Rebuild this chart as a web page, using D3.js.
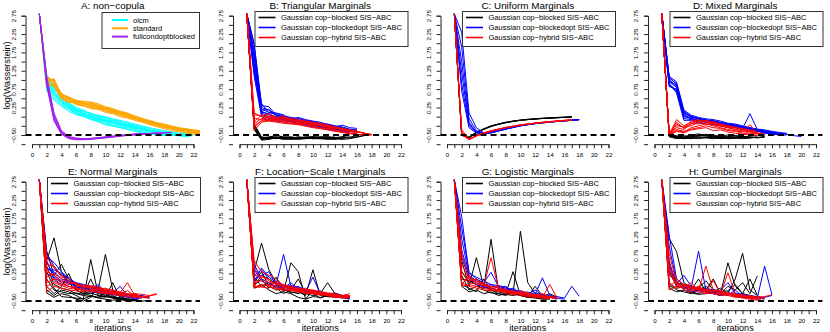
<!DOCTYPE html>
<html>
<head>
<meta charset="utf-8">
<script src="https://cdn.jsdelivr.net/npm/d3@7"></script>
<style>
  body { margin: 0; background: #fff; }
  svg { display: block; font-family: "Liberation Sans", Arial, sans-serif; }
</style>
</head>
<body>
<div id="chart"></div>
<script>
// figure size
let svgWidth = 830,
    svgHeight = 332;

// panel grid (4 x 2)
let panelW = 207.5,
    panelH = 166;

// axis ticks and labels
const xTicks = d3.range(0, 23, 1);
const xLabels = [0, 2, 4, 6, 8, 10, 12, 14, 16, 18, 20, 22];
const yTicks = d3.range(-0.75, 2.76, 0.25);
const yLabels = [2.75, 2.25, 1.75, 1.25, 0.75, 0.25, -0.5];
const refLevel = -0.5;

const panelTitles = ['A: non\u2212copula', 'B: Triangular Marginals', 'C: Uniform Marginals', 'D: Mixed Marginals',
    'E: Normal Marginals', 'F: Location\u2212Scale t Marginals', 'G: Logistic Marginals', 'H: Gumbel Marginals'];

const baseMethods = ['olcm', 'standard', 'fullcondoptblocked'];
const baseColours = ['#00ffff', '#ffa500', '#a020f0'];
const copulaMethods = ['Gaussian cop\u2212blocked SIS\u2212ABC', 'Gaussian cop\u2212blockedopt SIS\u2212ABC', 'Gaussian cop\u2212hybrid SIS\u2212ABC'];
const copulaColours = ['#000000', '#0000ff', '#ff0000'];

// each run is log(Wasserstein) at iterations 1, 2, 3, ...
// A: non-copula
const A_olcm = [
    [2.8,1.05,0.72,0.45,0.32,0.18,0.1,0.02,-0.05,-0.1,-0.15,-0.2,-0.24,-0.28,-0.33,-0.38,-0.42,-0.45,-0.48,-0.5],
    [2.8,0.9,0.6,0.38,0.25,0.12,0.05,-0.02,-0.08,-0.14,-0.18,-0.22,-0.27,-0.3,-0.35,-0.4,-0.43,-0.46,-0.47,-0.5,-0.52],
    [2.8,1.1,0.8,0.52,0.36,0.22,0.15,0.08,0.0,-0.05,-0.1,-0.16,-0.2,-0.25,-0.3,-0.35,-0.4,-0.44,-0.46],
    [2.8,0.78,0.5,0.3,0.2,0.08,0.02,-0.06,-0.12,-0.2,-0.24,-0.3,-0.33,-0.38,-0.42,-0.45,-0.48,-0.5],
    [2.8,0.95,0.7,0.46,0.28,0.15,0.12,0.0,-0.04,-0.1,-0.12,-0.18,-0.22,-0.26,-0.32,-0.36,-0.4,-0.45,-0.48,-0.52,-0.55,-0.5],
    [2.8,1.0,0.66,0.42,0.3,0.2,0.06,0.03,-0.02,-0.08,-0.13,-0.2,-0.25,-0.3,-0.34,-0.38,-0.42,-0.44,-0.47,-0.49],
    [2.8,0.85,0.55,0.35,0.22,0.1,0.04,-0.04,-0.1,-0.16,-0.22,-0.27,-0.3,-0.35,-0.38,-0.42,-0.46,-0.5,-0.52,-0.5,-0.48],
    [2.8,1.15,0.85,0.5,0.34,0.2,0.14,0.1,0.02,-0.03,-0.08,-0.13,-0.18,-0.22,-0.27,-0.32,-0.37,-0.4,-0.43,-0.46,-0.47,-0.45],
    [2.8,0.7,0.45,0.28,0.15,0.05,0.0,-0.08,-0.14,-0.22,-0.26,-0.3,-0.35,-0.4,-0.44,-0.47,-0.5,-0.52,-0.5],
    [2.8,1.08,0.76,0.55,0.38,0.26,0.18,0.06,0.04,0.0,-0.06,-0.1,-0.15,-0.2,-0.25,-0.3,-0.34,-0.38,-0.42,-0.45,-0.48],
    [2.8,0.92,0.62,0.4,0.26,0.16,0.08,0.05,-0.06,-0.12,-0.16,-0.24,-0.28,-0.32,-0.36,-0.4,-0.44,-0.47,-0.49,-0.52]
];
const A_standard = [
    [2.8,1.05,1.0,0.6,0.5,0.42,0.38,0.36,0.3,0.25,0.2,0.12,0.06,-0.02,-0.08,-0.15,-0.2,-0.25,-0.3,-0.34,-0.37,-0.4,-0.42],
    [2.8,0.9,0.85,0.5,0.42,0.35,0.3,0.25,0.2,0.15,0.1,0.04,-0.02,-0.08,-0.14,-0.2,-0.26,-0.3,-0.34,-0.38,-0.42,-0.45,-0.47],
    [2.8,1.1,0.95,0.62,0.52,0.45,0.4,0.4,0.35,0.27,0.22,0.15,0.1,0.02,-0.04,-0.14,-0.18,-0.23,-0.28,-0.32,-0.35,-0.38,-0.4],
    [2.8,0.8,0.9,0.55,0.45,0.38,0.33,0.3,0.24,0.2,0.14,0.08,0.02,-0.05,-0.1,-0.18,-0.22,-0.28,-0.33,-0.38,-0.4,-0.44,-0.46],
    [2.8,0.95,1.04,0.58,0.48,0.32,0.3,0.22,0.2,0.12,0.08,0.0,-0.04,-0.1,-0.15,-0.22,-0.27,-0.33,-0.38,-0.41,-0.45,-0.48,-0.5],
    [2.8,1.0,0.82,0.48,0.38,0.4,0.35,0.34,0.28,0.22,0.16,0.1,0.05,0.0,-0.06,-0.12,-0.18,-0.24,-0.28,-0.32,-0.36,-0.38,-0.4],
    [2.8,0.85,0.88,0.52,0.4,0.36,0.28,0.26,0.22,0.18,0.12,0.06,0.0,-0.06,-0.12,-0.16,-0.22,-0.27,-0.32,-0.36,-0.38,-0.42,-0.44],
    [2.8,1.08,0.98,0.6,0.54,0.44,0.42,0.38,0.32,0.26,0.18,0.13,0.08,0.0,-0.06,-0.1,-0.16,-0.2,-0.25,-0.3,-0.33,-0.36,-0.38],
    [2.8,0.98,0.92,0.56,0.46,0.41,0.36,0.32,0.26,0.2,0.15,0.1,0.03,-0.04,-0.1,-0.16,-0.21,-0.26,-0.31,-0.35,-0.39,-0.42,-0.45],
    [2.8,1.02,0.96,0.64,0.5,0.39,0.37,0.28,0.25,0.23,0.17,0.09,0.04,-0.03,-0.09,-0.13,-0.19,-0.22,-0.27,-0.31,-0.34,-0.37,-0.41]
];
const A_fullcond = [
    [2.8,0.95,-0.05,-0.45,-0.58,-0.62,-0.62,-0.6,-0.58,-0.56,-0.54,-0.52,-0.5,-0.48,-0.47,-0.46,-0.45,-0.44],
    [2.8,1.05,0.05,-0.4,-0.55,-0.6,-0.61,-0.6,-0.59,-0.57,-0.55,-0.53,-0.51,-0.49,-0.48,-0.47],
    [2.8,0.85,-0.12,-0.48,-0.6,-0.63,-0.63,-0.62,-0.6,-0.58,-0.56,-0.53,-0.51,-0.5,-0.48,-0.46,-0.45,-0.44,-0.43],
    [2.8,1.0,0.0,-0.42,-0.56,-0.6,-0.6,-0.59,-0.57,-0.55,-0.53,-0.51,-0.49,-0.47,-0.46],
    [2.8,0.9,-0.08,-0.46,-0.59,-0.61,-0.62,-0.61,-0.59,-0.57,-0.54,-0.52,-0.5,-0.49,-0.47,-0.46,-0.45],
    [2.8,1.1,0.1,-0.38,-0.54,-0.58,-0.6,-0.6,-0.58,-0.56,-0.54,-0.52,-0.5,-0.48,-0.47,-0.46,-0.45,-0.44,-0.43]
];

// B: Triangular
const B_blocked = [
    [2.8,-0.25,-0.6,-0.58,-0.55,-0.6,-0.58,-0.56,-0.57,-0.55,-0.56,-0.58,-0.6,-0.55,-0.5],
    [2.8,-0.3,-0.62,-0.6,-0.48,-0.58,-0.6,-0.55,-0.58,-0.6,-0.57,-0.55,-0.58],
    [2.8,-0.2,-0.55,-0.58,-0.6,-0.56,-0.55,-0.6,-0.56,-0.55,-0.58,-0.6,-0.57,-0.55,-0.58,-0.55,-0.5],
    [2.8,-0.35,-0.64,-0.62,-0.58,-0.62,-0.6,-0.58,-0.55,-0.58,-0.6,-0.62,-0.6,-0.58],
    [2.8,-0.28,-0.58,-0.55,-0.52,-0.55,-0.57,-0.58,-0.6,-0.57,-0.56,-0.55,-0.58,-0.6,-0.56,-0.52],
    [2.8,-0.22,-0.6,-0.6,-0.56,-0.6,-0.62,-0.6,-0.57,-0.55,-0.58,-0.6,-0.62,-0.58,-0.55],
    [2.8,-0.32,-0.62,-0.57,-0.6,-0.58,-0.56,-0.57,-0.58,-0.6,-0.6,-0.57,-0.55],
    [2.8,-0.26,-0.57,-0.6,-0.58,-0.57,-0.6,-0.62,-0.6,-0.58,-0.55,-0.56,-0.6,-0.62,-0.6,-0.56,-0.52]
];
const B_blockedopt = [
    [2.8,2.0,0.3,0.27,0.05,0.0,-0.05,-0.08,-0.12,-0.16,-0.2,-0.22,-0.28,-0.23,-0.3,-0.32],
    [2.8,1.6,0.15,0.05,0.0,-0.05,-0.1,-0.12,-0.15,-0.2,-0.25,-0.28,-0.32,-0.38,-0.42],
    [2.8,1.3,0.05,-0.05,-0.08,-0.1,-0.12,-0.18,-0.2,-0.25,-0.28,-0.32,-0.35,-0.4,-0.45],
    [2.8,1.8,0.36,0.1,0.08,0.02,-0.02,-0.05,-0.1,-0.14,-0.18,-0.2,-0.25,-0.28,-0.34,-0.36],
    [2.8,1.1,0.0,-0.1,-0.12,-0.15,-0.14,-0.2,-0.24,-0.28,-0.3,-0.35,-0.38,-0.42],
    [2.8,1.45,0.2,0.12,0.1,0.05,-0.08,-0.02,-0.08,-0.12,-0.15,-0.22,-0.26,-0.3,-0.35,-0.38],
    [2.8,1.95,0.25,0.18,0.02,-0.02,-0.04,-0.1,-0.14,-0.18,-0.22,-0.26,-0.3,-0.32,-0.37],
    [2.8,1.2,0.1,0.0,-0.05,-0.08,-0.1,-0.14,-0.18,-0.22,-0.26,-0.3,-0.32,-0.38,-0.4,-0.43],
    [2.8,1.7,0.18,0.2,0.04,-0.03,-0.06,-0.1,-0.13,-0.17,-0.21,-0.27,-0.3,-0.35,-0.39,-0.41],
    [2.8,1.35,0.12,0.08,-0.02,-0.06,-0.1,-0.13,-0.16,-0.24,-0.26,-0.29,-0.34,-0.36,-0.38]
];
const B_hybrid = [
    [2.8,-0.15,0.05,0.0,-0.05,-0.02,-0.08,-0.1,-0.15,-0.18,-0.22,-0.26,-0.3,-0.35,-0.38,-0.42,-0.45,-0.5],
    [2.8,-0.3,-0.1,-0.05,-0.1,-0.12,-0.15,-0.18,-0.2,-0.25,-0.3,-0.32,-0.35,-0.4,-0.44,-0.47],
    [2.8,0.05,0.02,0.08,-0.02,0.0,-0.05,-0.08,-0.12,-0.15,-0.18,-0.22,-0.28,-0.32,-0.36,-0.4,-0.46],
    [2.8,-0.38,-0.15,-0.12,-0.15,-0.18,-0.2,-0.22,-0.26,-0.3,-0.33,-0.36,-0.4,-0.43,-0.46,-0.48,-0.5,-0.5],
    [2.8,-0.2,-0.05,-0.08,-0.05,-0.1,-0.12,-0.14,-0.18,-0.22,-0.25,-0.28,-0.32,-0.36,-0.4,-0.44],
    [2.8,0.1,0.0,-0.02,-0.08,-0.05,-0.1,-0.12,-0.16,-0.2,-0.24,-0.3,-0.28,-0.34,-0.38,-0.42,-0.45],
    [2.8,-0.25,-0.12,-0.1,-0.12,-0.15,-0.18,-0.2,-0.22,-0.27,-0.3,-0.34,-0.38,-0.42,-0.46,-0.48,-0.5],
    [2.8,-0.05,-0.08,0.02,-0.02,-0.06,-0.08,-0.16,-0.14,-0.18,-0.22,-0.25,-0.3,-0.33,-0.37,-0.4,-0.45,-0.48]
];

// C: Uniform
const C_blocked = [
    [2.8,-0.5,-0.57,-0.43,-0.34,-0.26,-0.2,-0.16,-0.12,-0.1,-0.08,-0.06,-0.05,-0.04,-0.03,-0.02,-0.01],
    [2.8,-0.49,-0.56,-0.42,-0.33,-0.25,-0.2,-0.15,-0.12,-0.09,-0.07,-0.06,-0.04,-0.03,-0.02,-0.01,0.0],
    [2.8,-0.51,-0.58,-0.44,-0.35,-0.27,-0.21,-0.17,-0.13,-0.1,-0.08,-0.07,-0.05,-0.04,-0.03,-0.02,-0.01],
    [2.8,-0.5,-0.57,-0.43,-0.34,-0.26,-0.21,-0.16,-0.13,-0.1,-0.08,-0.06,-0.05,-0.04,-0.03,-0.02,-0.01]
];
const C_blockedopt = [
    [2.8,2.3,0.1,-0.3,-0.44,-0.43,-0.38,-0.33,-0.28,-0.24,-0.21,-0.18,-0.16,-0.14,-0.13,-0.11,-0.09,-0.08],
    [2.8,1.9,-0.05,-0.38,-0.45,-0.44,-0.39,-0.34,-0.29,-0.25,-0.22,-0.19,-0.17,-0.15,-0.13,-0.11,-0.1,-0.08],
    [2.8,1.5,-0.15,-0.42,-0.46,-0.44,-0.39,-0.34,-0.3,-0.25,-0.22,-0.19,-0.17,-0.15,-0.13,-0.12,-0.1,-0.09],
    [2.8,1.2,-0.2,-0.44,-0.46,-0.43,-0.38,-0.33,-0.29,-0.25,-0.21,-0.19,-0.16,-0.14,-0.13,-0.11,-0.1,-0.08],
    [2.8,0.9,-0.25,-0.43,-0.45,-0.43,-0.38,-0.33,-0.28,-0.24,-0.21,-0.18,-0.16,-0.14,-0.12,-0.11,-0.09,-0.08],
    [2.8,0.7,-0.3,-0.45,-0.46,-0.44,-0.39,-0.34,-0.29,-0.25,-0.22,-0.19,-0.17,-0.15,-0.13,-0.12,-0.1]
];
const C_hybrid = [
    [2.8,-0.4,-0.62,-0.52,-0.45,-0.39,-0.34,-0.3,-0.26,-0.23,-0.2,-0.18,-0.16,-0.14,-0.12,-0.1,-0.09],
    [2.8,-0.35,-0.61,-0.51,-0.44,-0.38,-0.34,-0.29,-0.26,-0.22,-0.2,-0.17,-0.15,-0.13,-0.12,-0.1,-0.08],
    [2.8,-0.48,-0.63,-0.53,-0.46,-0.4,-0.35,-0.3,-0.27,-0.23,-0.21,-0.18,-0.16,-0.14,-0.12,-0.11,-0.09],
    [2.8,-0.45,-0.62,-0.52,-0.45,-0.39,-0.35,-0.3,-0.26,-0.23,-0.2,-0.18,-0.16,-0.14,-0.13,-0.11,-0.1]
];

// D: Mixed
const D_blocked = [
    [2.8,-0.5,-0.55,-0.58,-0.55,-0.52,-0.5,-0.55,-0.58,-0.56,-0.55,-0.57,-0.58,-0.56],
    [2.8,-0.52,-0.58,-0.6,-0.57,-0.55,-0.56,-0.58,-0.6,-0.58,-0.57,-0.55,-0.56,-0.58,-0.55],
    [2.8,-0.48,-0.52,-0.55,-0.5,-0.47,-0.52,-0.5,-0.54,-0.55,-0.52,-0.55,-0.57],
    [2.8,-0.55,-0.6,-0.58,-0.6,-0.57,-0.58,-0.6,-0.57,-0.55,-0.58,-0.6,-0.58,-0.55],
    [2.8,-0.5,-0.56,-0.52,-0.55,-0.53,-0.48,-0.53,-0.56,-0.58,-0.56,-0.54,-0.56,-0.57,-0.54],
    [2.8,-0.53,-0.57,-0.6,-0.58,-0.6,-0.57,-0.56,-0.58,-0.6,-0.59,-0.57,-0.58],
    [2.8,-0.5,-0.54,-0.56,-0.52,-0.5,-0.53,-0.55,-0.53,-0.5,-0.52,-0.54,-0.55,-0.57,-0.56]
];
const D_blockedopt = [
    [2.8,1.05,0.9,0.15,0.0,-0.05,-0.1,-0.12,-0.15,-0.2,-0.22,-0.28,-0.32,-0.35,-0.4,-0.45],
    [2.8,0.95,0.8,0.05,-0.05,-0.1,-0.12,-0.1,-0.18,-0.22,-0.26,-0.3,-0.35,-0.38,-0.42,-0.45,-0.47],
    [2.8,0.85,0.7,-0.05,-0.08,-0.15,-0.15,-0.2,-0.22,-0.25,-0.28,-0.32,0.08,-0.35,-0.4,-0.45,-0.48],
    [2.8,1.1,0.95,0.18,0.04,-0.02,-0.06,-0.08,-0.12,-0.18,-0.2,-0.25,-0.3,-0.35,-0.38,-0.42,-0.45,-0.48,-0.52,-0.54],
    [2.8,0.9,0.65,-0.1,-0.1,-0.18,-0.2,-0.22,-0.25,-0.28,-0.3,-0.35,-0.38,-0.4,-0.45,-0.48,-0.5,-0.5],
    [2.8,1.0,0.85,0.1,-0.02,-0.06,-0.12,-0.16,-0.2,-0.24,-0.26,-0.3,-0.33,-0.36,-0.42,-0.44,-0.46,-0.45],
    [2.8,0.82,0.75,0.0,-0.04,-0.12,-0.08,-0.14,-0.16,-0.2,-0.25,-0.3,-0.34,-0.38,-0.43,-0.47],
    [2.8,1.08,0.88,0.08,0.02,-0.08,-0.1,-0.14,-0.18,-0.22,-0.24,-0.28,-0.3,-0.34,-0.36,-0.4,-0.43,-0.46],
    [2.8,0.98,0.82,0.12,0.0,-0.04,-0.09,-0.12,-0.17,-0.21,-0.25,-0.27,-0.31,-0.37,-0.4,-0.44],
    [2.8,0.88,0.72,0.02,-0.06,-0.1,-0.14,-0.18,-0.2,-0.23,-0.27,-0.33,-0.36,-0.39,-0.44,-0.46,-0.48]
];
const D_hybrid = [
    [2.8,-0.5,-0.08,-0.25,-0.15,-0.12,-0.15,-0.2,-0.22,-0.28,-0.3,-0.35,-0.38,-0.45,-0.5],
    [2.8,-0.48,-0.3,-0.35,-0.2,-0.1,-0.12,-0.18,-0.25,-0.3,-0.34,-0.4,-0.45,-0.48],
    [2.8,-0.52,-0.38,-0.42,-0.3,-0.25,-0.2,-0.25,-0.3,-0.35,-0.38,-0.42,-0.22,-0.45,-0.5],
    [2.8,-0.46,-0.2,-0.3,-0.12,-0.08,-0.16,-0.14,-0.2,-0.24,-0.3,-0.33,-0.36,-0.42],
    [2.8,-0.5,-0.35,-0.4,-0.34,-0.3,-0.25,-0.3,-0.32,-0.38,-0.4,-0.45,-0.48,-0.52,-0.5],
    [2.8,-0.49,-0.25,-0.28,-0.25,-0.15,-0.2,-0.22,-0.26,-0.3,-0.35,-0.38,-0.42,-0.46],
    [2.8,-0.47,-0.15,-0.32,-0.18,-0.2,-0.1,-0.15,-0.22,-0.26,-0.28,-0.34,-0.4,-0.44,-0.47],
    [2.8,-0.51,-0.4,-0.44,-0.36,-0.33,-0.3,-0.38,-0.36,-0.42,-0.45,-0.48,-0.5,-0.52]
];

// E: Normal
const E_blocked = [
    [2.8,0.6,1.22,0.3,0.0,-0.2,-0.3,-0.35,-0.4,-0.38,-0.42,-0.45,-0.48,-0.5],
    [2.8,-0.2,-0.35,-0.2,-0.25,-0.35,-0.45,0.63,-0.3,-0.35,-0.38,-0.42,-0.45,-0.48,-0.5],
    [2.8,0.86,0.2,0.5,0.1,-0.1,-0.25,-0.3,-0.2,0.77,-0.2,-0.38,-0.45,-0.47],
    [2.8,-0.1,-0.3,-0.1,0.25,-0.2,-0.3,-0.28,-0.35,-0.4,0.0,-0.42,-0.5,-0.48,-0.5],
    [2.8,0.3,-0.15,-0.38,-0.4,-0.42,-0.45,-0.35,-0.42,-0.45,-0.48,-0.45,-0.5],
    [2.8,-0.28,-0.4,-0.3,-0.35,-0.45,-0.5,-0.4,-0.1,-0.3,-0.35,-0.45,-0.48,-0.45,-0.5,-0.48],
    [2.8,0.1,-0.2,-0.25,-0.3,-0.28,-0.32,0.1,-0.35,-0.38,-0.4,-0.42,-0.44,-0.46],
    [2.8,0.45,-0.05,-0.15,-0.2,-0.3,-0.35,-0.38,-0.4,-0.3,-0.42,-0.44,-0.5,-0.47]
];
const E_blockedopt = [
    [2.8,0.7,0.55,0.3,0.1,0.0,-0.05,-0.1,-0.15,-0.2,-0.25,-0.3,-0.32,-0.35,-0.4],
    [2.8,0.4,0.3,0.1,0.05,-0.1,-0.12,-0.15,-0.18,-0.22,-0.28,-0.3,-0.34,-0.38,-0.4,-0.42],
    [2.8,0.8,0.45,0.2,0.15,-0.05,-0.1,-0.18,-0.05,-0.25,-0.28,-0.1,-0.35,-0.38,-0.42],
    [2.8,0.25,0.15,0.0,-0.1,-0.15,-0.2,-0.25,-0.28,-0.3,-0.32,-0.36,-0.4,-0.42,-0.4,-0.38],
    [2.8,0.55,0.2,0.05,0.0,-0.12,-0.15,-0.2,-0.22,-0.3,-0.32,-0.35,-0.38,-0.45,-0.4],
    [2.8,0.35,0.35,0.25,-0.05,-0.02,-0.08,-0.22,-0.25,-0.28,-0.3,-0.28,-0.33,-0.37,-0.35,-0.4],
    [2.8,0.6,0.1,-0.05,0.05,-0.08,-0.18,-0.12,-0.2,-0.26,-0.22,-0.34,-0.37,-0.3,-0.4]
];
const E_hybrid = [
    [2.8,0.7,0.4,0.2,0.05,-0.05,-0.1,-0.15,-0.2,-0.22,-0.25,-0.3,-0.35,-0.3,-0.32,-0.35,-0.3],
    [2.8,-0.25,-0.1,-0.15,-0.2,-0.22,-0.25,-0.2,-0.28,-0.3,-0.32,-0.35,-0.38,-0.4,-0.42],
    [2.8,0.3,0.2,0.0,-0.1,-0.12,-0.05,-0.18,-0.22,-0.25,-0.3,-0.28,0.0,-0.35,-0.4],
    [2.8,0.0,0.1,0.05,-0.05,0.0,-0.15,-0.12,-0.15,-0.2,-0.26,-0.32,-0.34,-0.38,-0.4,-0.36,-0.32],
    [2.8,0.5,0.45,0.15,0.1,-0.08,-0.12,-0.1,-0.18,-0.15,-0.22,-0.27,-0.3,-0.32,-0.38],
    [2.8,-0.1,0.0,-0.08,-0.15,-0.18,-0.2,-0.24,-0.26,-0.28,-0.3,-0.33,-0.36,-0.38,-0.4,-0.42],
    [2.8,0.15,0.25,0.1,0.0,-0.02,-0.1,-0.08,-0.12,-0.18,-0.2,-0.25,-0.3,-0.35,-0.38],
    [2.8,0.4,0.05,-0.05,-0.1,-0.15,-0.18,-0.22,-0.2,-0.24,-0.28,-0.3,-0.22,-0.36,-0.4,-0.38]
];

// F: Location-Scale t
const F_blocked = [
    [2.8,0.3,1.08,0.35,0.0,-0.2,-0.15,-0.25,-0.3,-0.35,-0.32,-0.38,-0.4,-0.38,-0.35],
    [2.8,-0.1,0.2,0.1,-0.05,-0.25,0.54,0.3,-0.45,-0.2,-0.3,0.0,-0.3,-0.35,-0.4],
    [2.8,0.0,0.3,-0.1,-0.2,-0.15,-0.28,-0.25,-0.35,0.35,-0.35,-0.3,-0.38,-0.4,-0.42],
    [2.8,-0.15,-0.05,-0.2,-0.3,-0.25,-0.3,-0.4,-0.45,-0.38,-0.4,-0.35,-0.38,-0.42,-0.4],
    [2.8,0.15,-0.1,0.0,-0.15,-0.3,-0.2,0.1,-0.28,-0.3,-0.42,-0.35,-0.3,-0.36,-0.38],
    [2.8,-0.05,0.1,-0.15,0.15,-0.2,-0.25,-0.3,-0.2,-0.25,-0.3,-0.38,-0.35,-0.4]
];
const F_blockedopt = [
    [2.8,0.2,0.35,0.1,-0.05,0.77,-0.1,-0.15,-0.2,-0.25,-0.28,-0.3,-0.35,-0.38,-0.42],
    [2.8,0.5,0.1,0.0,-0.1,-0.05,-0.15,-0.2,-0.25,0.15,-0.3,-0.32,-0.35,-0.4,-0.45],
    [2.8,0.0,0.4,0.15,0.0,-0.1,-0.08,-0.12,-0.18,-0.22,-0.26,-0.3,-0.32,-0.36,-0.4],
    [2.8,0.35,0.05,-0.05,-0.12,-0.15,0.0,-0.18,-0.22,-0.25,-0.3,-0.32,-0.28,-0.35,-0.38],
    [2.8,0.1,0.2,0.3,-0.08,-0.12,-0.18,-0.1,-0.24,-0.3,-0.22,-0.35,-0.38,-0.4,-0.44]
];
const F_hybrid = [
    [2.8,-0.12,-0.05,-0.1,-0.15,-0.2,-0.22,-0.25,-0.28,-0.3,-0.32,-0.35,-0.38,-0.4,-0.38],
    [2.8,-0.1,0.2,0.05,-0.05,-0.1,-0.15,-0.2,-0.22,-0.25,-0.3,-0.32,-0.35,-0.38,-0.4],
    [2.8,0.4,0.1,0.0,-0.02,-0.05,-0.12,-0.18,-0.2,-0.22,-0.28,-0.3,-0.34,-0.36,-0.35],
    [2.8,-0.15,-0.1,-0.05,-0.1,-0.18,-0.2,-0.22,-0.26,-0.28,-0.32,-0.34,-0.36,-0.42,-0.4],
    [2.8,0.6,0.3,0.2,0.1,-0.08,-0.1,-0.15,-0.18,-0.2,-0.24,-0.28,-0.3,-0.35,-0.3],
    [2.8,0.0,0.05,-0.08,-0.2,-0.15,-0.12,-0.22,-0.3,-0.28,-0.3,-0.36,-0.38,-0.4,-0.42],
    [2.8,-0.1,-0.12,-0.15,0.05,-0.1,-0.18,-0.24,-0.25,-0.3,-0.34,-0.32,-0.4,-0.38,-0.35],
    [2.8,0.2,0.15,0.1,-0.05,-0.12,-0.16,-0.2,-0.15,-0.26,-0.26,-0.3,-0.33,-0.37,-0.4]
];

// G: Logistic
const G_blocked = [
    [2.8,0.6,-0.1,0.68,-0.1,-0.2,-0.25,-0.3,-0.28,-0.35,-0.4,-0.42,-0.45,-0.44],
    [2.8,0.2,-0.2,-0.1,-0.15,1.18,-0.2,-0.25,-0.3,-0.35,-0.3,-0.38,-0.42,-0.4,-0.45],
    [2.8,-0.1,-0.25,-0.2,-0.3,-0.25,-0.35,-0.3,0.3,-0.35,-0.4,-0.38,-0.44,-0.45],
    [2.8,0.3,0.0,0.1,-0.05,-0.15,-0.2,-0.25,-0.3,1.4,0.0,-0.3,-0.35,-0.4,-0.42],
    [2.8,-0.05,-0.15,-0.25,0.1,-0.2,-0.3,-0.32,-0.35,-0.3,-0.38,-0.1,-0.35,-0.42],
    [2.8,0.1,0.05,-0.05,-0.2,-0.28,-0.3,-0.35,-0.25,-0.3,-0.35,-0.4,-0.38,-0.3,-0.4]
];
const G_blockedopt = [
    [2.8,1.5,0.3,0.1,0.0,0.28,-0.1,-0.15,-0.2,-0.25,-0.3,-0.32,0.13,-0.35,-0.38,-0.42,-0.1,-0.37],
    [2.8,1.2,0.2,0.05,-0.05,-0.1,-0.12,-0.18,-0.22,-0.26,-0.3,-0.34,-0.38,-0.4,-0.42,-0.45],
    [2.8,0.9,0.15,0.0,-0.1,-0.05,-0.15,-0.2,-0.15,-0.28,-0.32,-0.2,-0.35,-0.4,-0.38],
    [2.8,1.8,0.25,0.15,0.05,-0.05,-0.08,-0.12,-0.25,-0.22,-0.3,-0.28,-0.34,-0.36,-0.4],
    [2.8,0.7,0.1,-0.05,-0.12,-0.15,-0.2,-0.1,-0.26,-0.3,-0.25,-0.35,-0.32,-0.38,-0.42]
];
const G_hybrid = [
    [2.8,0.5,0.1,0.0,-0.1,0.68,-0.15,-0.2,-0.25,-0.3,-0.32,-0.35,-0.38,-0.42],
    [2.8,-0.1,-0.05,-0.1,-0.15,-0.2,-0.22,-0.25,-0.3,-0.28,-0.34,-0.36,-0.4,-0.05,-0.42],
    [2.8,0.3,0.05,0.1,-0.05,-0.1,-0.15,-0.25,-0.22,-0.3,-0.3,-0.35,-0.38,-0.4,-0.44],
    [2.8,-0.05,0.2,0.0,-0.08,-0.15,-0.2,-0.18,-0.25,-0.32,-0.35,-0.38,-0.4,-0.42],
    [2.8,0.8,0.15,0.05,-0.02,-0.12,-0.1,-0.22,-0.28,-0.26,-0.3,-0.32,-0.36,-0.38,-0.4],
    [2.8,0.0,-0.1,-0.15,-0.2,-0.22,-0.18,-0.3,-0.32,-0.35,-0.38,-0.4,-0.42,-0.45],
    [2.8,0.15,0.0,-0.05,0.0,-0.18,-0.25,-0.2,-0.3,-0.22,-0.28,-0.34,-0.3,-0.38,-0.42]
];

// H: Gumbel
const H_blocked = [
    [2.8,1.2,0.85,0.0,-0.15,-0.2,-0.25,-0.3,-0.35,-0.3,-0.38,-0.4,-0.42,-0.4],
    [2.8,0.3,-0.1,-0.15,-0.2,0.1,-0.25,-0.2,-0.3,0.54,-0.1,-0.3,-0.35,-0.4],
    [2.8,0.0,-0.2,-0.25,-0.3,-0.2,-0.1,-0.25,-0.15,-0.3,0.1,0.8,-0.2,-0.35],
    [2.8,-0.1,-0.15,-0.1,-0.25,-0.3,-0.2,0.1,-0.3,-0.1,-0.2,0.0,-0.3,0.18],
    [2.8,0.5,0.0,-0.05,-0.1,-0.15,0.05,-0.2,-0.25,-0.22,-0.05,-0.3,0.1,-0.35],
    [2.8,-0.15,-0.25,-0.2,-0.28,-0.32,-0.3,-0.25,-0.35,-0.3,-0.35,-0.3,-0.4,-0.38]
];
const H_blockedopt = [
    [2.8,1.0,0.0,-0.1,-0.15,0.86,-0.2,-0.25,-0.3,-0.28,-0.35,-0.3,-0.38,-0.42,0.45,-0.33],
    [2.8,0.4,-0.05,0.2,-0.1,-0.15,-0.2,-0.18,-0.25,-0.3,-0.28,-0.35,-0.4,-0.45,-0.42],
    [2.8,1.3,0.1,-0.05,-0.2,-0.2,-0.25,-0.3,-0.2,0.0,-0.3,-0.32,-0.35,-0.38,-0.4,-0.35],
    [2.8,0.6,-0.1,-0.15,-0.1,-0.25,-0.3,-0.28,-0.32,-0.35,-0.2,-0.38,-0.42,-0.4,-0.45],
    [2.8,0.2,0.05,-0.2,-0.25,-0.2,-0.15,-0.3,-0.35,-0.25,-0.38,-0.32,-0.4,-0.44]
];
const H_hybrid = [
    [2.8,0.8,0.0,-0.1,-0.15,-0.2,0.45,-0.2,-0.25,-0.3,-0.35,-0.38,-0.4,-0.42,-0.38,-0.33],
    [2.8,-0.2,-0.1,-0.15,-0.2,-0.25,-0.3,-0.28,-0.32,0.27,-0.3,-0.35,-0.38,-0.4],
    [2.8,0.2,0.1,-0.05,-0.1,-0.15,-0.18,-0.22,-0.28,-0.3,-0.35,-0.32,-0.4,-0.45],
    [2.8,0.5,-0.05,-0.08,-0.12,-0.18,-0.22,-0.3,-0.35,-0.32,-0.38,-0.42,-0.45,-0.48,-0.4],
    [2.8,-0.1,0.05,-0.2,-0.25,-0.1,-0.28,-0.2,-0.3,-0.35,-0.4,-0.38,-0.42,-0.44],
    [2.8,0.0,-0.15,-0.12,0.0,-0.22,-0.25,0.05,-0.3,-0.32,-0.3,-0.36,-0.4,-0.38,-0.42],
    [2.8,0.35,-0.08,-0.05,-0.18,-0.1,-0.2,-0.25,-0.22,-0.28,-0.32,-0.4,-0.35,-0.4,-0.4]
];

// build the panel list from the arrays above
const copulaRuns = [
    [B_blocked, B_blockedopt, B_hybrid], [C_blocked, C_blockedopt, C_hybrid], [D_blocked, D_blockedopt, D_hybrid],
    [E_blocked, E_blockedopt, E_hybrid], [F_blocked, F_blockedopt, F_hybrid], [G_blocked, G_blockedopt, G_hybrid],
    [H_blocked, H_blockedopt, H_hybrid]
];
let panels = [{ title: panelTitles[0], runs: [A_olcm, A_standard, A_fullcond], names: baseMethods, colours: baseColours }];
copulaRuns.forEach((runs, i) => {
    panels.push({ title: panelTitles[i + 1], runs: runs, names: copulaMethods, colours: copulaColours });
});

let svg = d3.select('#chart')
    .append('svg')
    .attr('width', svgWidth)
    .attr('height', svgHeight);

// scales, shared by all panels (panel-local coordinates)
let xScale = d3.scaleLinear().domain([0, 22]).range([32, 193.5]);
let yScale = d3.scaleLinear().domain([-0.5, 2.75]).range([135, 15.7]);
let plotLeft = xScale(-0.88), plotRight = xScale(22.88);
let plotTop = yScale(3.0), plotBottom = yScale(-0.75);

let line = d3.line()
    .x((d, i) => xScale(i + 1))
    .y(d => yScale(d));

svg.append('defs').append('clipPath')
    .attr('id', 'plotclip')
    .append('rect')
    .attr('x', plotLeft).attr('y', plotTop)
    .attr('width', plotRight - plotLeft).attr('height', plotBottom - plotTop);

panels.forEach((p, k) => {
    let col = k % 4, row = Math.floor(k / 4);
    let g = svg.append('g')
        .attr('transform', `translate(${col * panelW}, ${row * panelH})`);

    // runs
    let lines = g.append('g').attr('clip-path', 'url(#plotclip)');
    p.runs.forEach((runs, s) => {
        lines.selectAll(null)
            .data(runs)
            .enter().append('path')
            .attr('d', line)
            .attr('fill', 'none')
            .attr('stroke', p.colours[s])
            .attr('stroke-width', 1)
            .attr('stroke-linejoin', 'round');
    });

    // reference line
    g.append('line')
        .attr('x1', plotLeft).attr('x2', plotRight)
        .attr('y1', yScale(refLevel)).attr('y2', yScale(refLevel))
        .attr('stroke', '#000').attr('stroke-width', 1.8)
        .attr('stroke-dasharray', '6,4');

    // x axis
    let xAxis = d3.axisBottom(xScale)
        .tickValues(xTicks)
        .tickSizeOuter(0)
        .tickSize(4)
        .tickFormat(d => xLabels.includes(d) ? d : '');
    let xg = g.append('g')
        .attr('transform', `translate(0, ${plotBottom})`)
        .call(xAxis);
    xg.select('.domain').attr('stroke', '#222');
    xg.selectAll('.tick line').attr('stroke', '#222');
    xg.selectAll('.tick text')
        .attr('font-size', 6.2)
        .attr('font-family', 'Liberation Sans, Arial, sans-serif')
        .attr('fill', '#000')
        .attr('dy', 0)
        .attr('y', 13.3);

    // y axis
    let yAxis = d3.axisLeft(yScale)
        .tickValues(yTicks)
        .tickSizeOuter(0)
        .tickSize(4)
        .tickFormat(d => yLabels.some(v => Math.abs(v - d) < 1e-9) ? d3.format('.2f')(d).replace('-', '\u2212') : '');
    let yg = g.append('g')
        .attr('transform', `translate(${plotLeft}, 0)`)
        .call(yAxis);
    yg.select('.domain').attr('stroke', '#222');
    yg.selectAll('.tick line').attr('stroke', '#222');
    yg.selectAll('.tick text')
        .attr('font-size', 6.2)
        .attr('font-family', 'Liberation Sans, Arial, sans-serif')
        .attr('fill', '#000')
        .attr('x', 0).attr('dy', 0)
        .attr('text-anchor', 'middle')
        .attr('transform', 'translate(-9.8, 0) rotate(-90)');

    // title
    g.append('text')
        .attr('x', (plotLeft + plotRight) / 2)
        .attr('y', 8.6)
        .attr('text-anchor', 'middle')
        .attr('font-size', 9.9)
        .text(p.title);

    // axis titles
    if (col === 0) {
        g.append('text')
            .attr('transform', `translate(10, ${(plotTop + plotBottom) / 2}) rotate(-90)`)
            .attr('text-anchor', 'middle')
            .attr('font-size', 9.1)
            .text('log(Wasserstein)');
    }
    if (row === 1) {
        g.append('text')
            .attr('x', (plotLeft + plotRight) / 2)
            .attr('y', 165)
            .attr('text-anchor', 'middle')
            .attr('font-size', 9.1)
            .text('iterations');
    }

    // legend
    let lg;
    if (k === 0) {
        lg = { x: 102, y: 12.5, w: 97.5, h: 36, lx1: 112, lx2: 128, tx: 133, rows: [20, 28.3, 36.6], lw: 2, textW: 62 };
    } else {
        lg = { x: 47.5, y: 11.5, w: 153, h: 35, lx1: 51, lx2: 68, tx: 73.5, rows: [17.5, 27.5, 37.5], lw: 1.6, textW: 121 };
    }
    let legend = g.append('g');
    legend.append('rect')
        .attr('x', lg.x).attr('y', lg.y)
        .attr('width', lg.w).attr('height', lg.h)
        .attr('fill', '#fff')
        .attr('stroke', '#333').attr('stroke-width', 1);
    legend.selectAll('line.key')
        .data(p.names)
        .enter().append('line')
        .attr('class', 'key')
        .attr('x1', lg.lx1).attr('x2', lg.lx2)
        .attr('y1', (d, s) => lg.rows[s]).attr('y2', (d, s) => lg.rows[s])
        .attr('stroke', (d, s) => p.colours[s]).attr('stroke-width', lg.lw);
    let labels = legend.selectAll('text')
        .data(p.names)
        .enter().append('text')
        .attr('x', lg.tx)
        .attr('font-size', 7.4)
        .text(d => d);
    // size the legend text so the longest entry spans the same width as in the figure
    let widest = d3.max(labels.nodes(), n => n.getComputedTextLength());
    let fs = widest > 0 ? 7.4 * lg.textW / widest : 7.4;
    labels.attr('font-size', fs)
        .attr('y', (d, s) => lg.rows[s] + 0.35 * fs);
});
</script>
</body>
</html>
